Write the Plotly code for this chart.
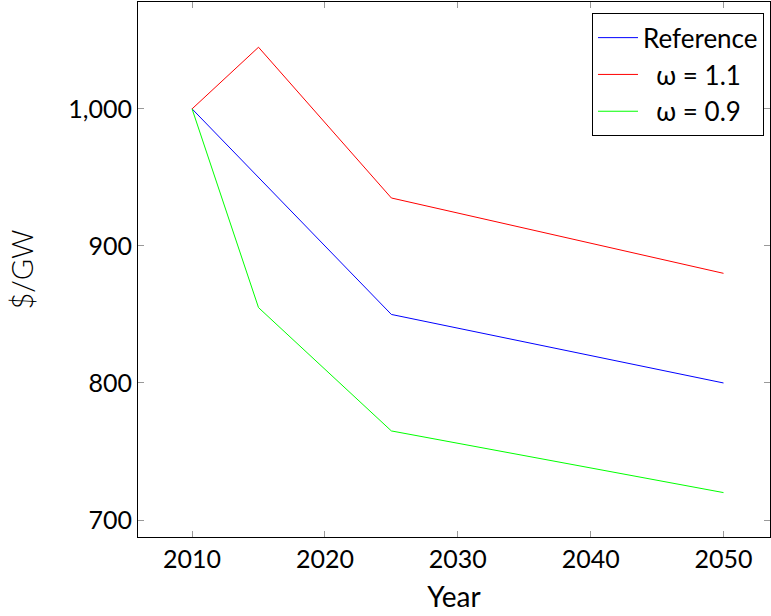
import plotly.graph_objects as go

years = [2010, 2015, 2025, 2050]
reference = [1000, 950, 850, 800]
omega_high = [1000, 1045, 935, 880]
omega_low = [1000, 855, 765, 720]

series = [
    ("Reference", reference, "#0000ff"),
    ("\u00a0\u00a0\u03c9 = 1.1", omega_high, "#ff0000"),
    ("\u00a0\u00a0\u03c9 = 0.9", omega_low, "#00ff00"),
]

FONT = "Lato"

fig = go.Figure()
for name, vals, color in series:
    fig.add_trace(go.Scatter(x=years, y=vals, mode="lines", name=name,
                             line=dict(color=color, width=1)))

axis_common = dict(
    showgrid=False, zeroline=False,
    showline=True, linecolor="black", linewidth=1, mirror="allticks",
    ticks="inside", ticklen=6, tickcolor="#999999", tickwidth=1,
    tickfont=dict(family=FONT, size=25, color="black"),
)

fig.update_xaxes(range=[2005.93, 2053.5], tickvals=[2010, 2020, 2030, 2040, 2050],
                 title=dict(text="Year", font=dict(family=FONT, size=28, color="black"),
                            standoff=15),
                 **axis_common)
fig.update_yaxes(range=[687.6, 1078], tickvals=[700, 800, 900, 1000], tickformat=",",
                 title=dict(text="$/GW", font=dict(family="Lato Light, Lato", size=29,
                                                   color="black"),
                            standoff=26),
                 **axis_common)

fig.update_layout(
    width=771, height=616,
    margin=dict(l=138, r=1, t=2, b=79),
    plot_bgcolor="white", paper_bgcolor="white",
    showlegend=True,
    legend=dict(x=0.9905, y=0.979, xanchor="right", yanchor="top",
                bordercolor="black", borderwidth=1, bgcolor="white",
                font=dict(family=FONT, size=26, color="black"),
                tracegroupgap=0, itemwidth=40),
)

fig.write_html("out.html")
